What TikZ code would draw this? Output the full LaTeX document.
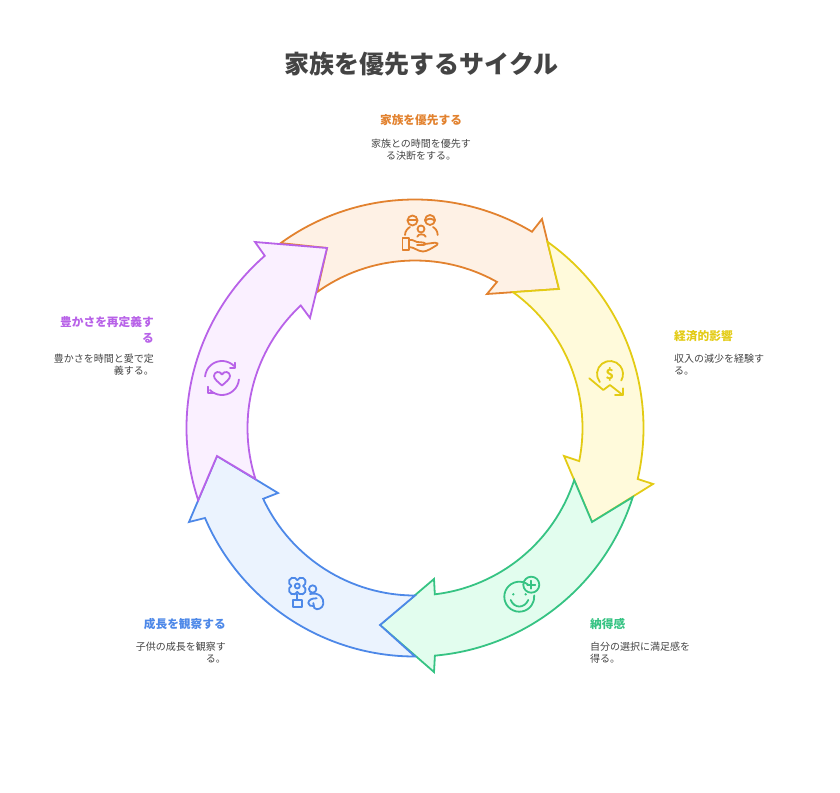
\documentclass[tikz,border=0pt]{standalone}
\usepackage{fontspec}
\setmainfont{Noto Sans CJK JP}
\usetikzlibrary{positioning}
\definecolor{inkgray}{HTML}{444444}
\definecolor{famline}{HTML}{E2822F}
\definecolor{famfill}{HTML}{FEF1E5}
\definecolor{ecoline}{HTML}{E3CB14}
\definecolor{ecofill}{HTML}{FFFADB}
\definecolor{satline}{HTML}{36C383}
\definecolor{satfill}{HTML}{E2FDEE}
\definecolor{groline}{HTML}{4D88E8}
\definecolor{grofill}{HTML}{EBF3FE}
\definecolor{richline}{HTML}{B862E8}
\definecolor{richfill}{HTML}{FAF0FF}
\tikzset{
    ring/.style={line width=1.8pt, line join=miter, miter limit=10},
    icon/.style={line width=1.8pt, line cap=round, line join=round},
    headtext/.style={font=\fontsize{11.7}{15.5}\selectfont\bfseries, inner sep=0pt},
    bodytext/.style={font=\fontsize{10}{12}\selectfont, text=inkgray, inner sep=0pt},
}
\begin{document}
\begin{tikzpicture}[x=1pt, y=1pt]
    \useasboundingbox (-415,-364) rectangle (425,428);
    \node[font=\fontsize{25}{30}\selectfont\bfseries, text=inkgray, inner sep=0pt] (title) at (6.5,364) {家族を優先するサイクル};

    % ring, each arrow laid over the one before it
    \draw[ring, draw=famline, fill=famfill] (126:228.5) arc[start angle=126, end angle=59.2, radius=228.5]
        -- (127,209) -- (144,139) -- (72,134) -- (60.7:167.5) arc[start angle=60.7, end angle=125.8, radius=167.5] -- (-88,180) -- cycle;
    \draw[ring, draw=ecoline, fill=ecofill] (54.6:228.5) arc[start angle=54.6, end angle=-12.9, radius=228.5]
        -- (238,-56) -- (177,-94) -- (149,-28) -- (-11.4:167.5) arc[start angle=-11.4, end angle=54.2, radius=167.5] -- (144,139) -- cycle;
    \draw[ring, draw=satline, fill=satfill] (-17.6:228.5) arc[start angle=-17.6, end angle=-85, radius=228.5]
        -- (19,-244) -- (-35,-197) -- (19,-151) -- (-83.2:167.5) arc[start angle=-83.2, end angle=-18.1, radius=167.5] -- (177,-94) -- cycle;
    \draw[ring, draw=groline, fill=grofill] (-90:228.5) arc[start angle=-90, end angle=-156.8, radius=228.5]
        -- (-226,-94) -- (-198,-28) -- (-137,-65) -- (-155:167.5) arc[start angle=-155, end angle=-90, radius=167.5] -- (-35,-197) -- cycle;
    \draw[ring, draw=richline, fill=richfill] (198.4:228.5) arc[start angle=198.4, end angle=131.1, radius=228.5]
        -- (-160,186) -- (-88,180) -- (-105,110) -- (133:167.5) arc[start angle=133, end angle=197.7, radius=167.5] -- (-198,-28) -- cycle;

    % family icon
    \begin{scope}[shift={(5,194)}, icon, draw=famline]
        \draw (-7.5,13.5) circle[radius=5];
        \draw (-12.5,14) -- (-2.5,14);
        \draw (10,14) circle[radius=5];
        \draw (5.2,13) .. controls (8,16) and (12,16) .. (14.8,13);
        \draw (1,5) circle[radius=3.5];
        \draw (-15,-1) .. controls (-15,3) and (-12,6) .. (-10,7);
        \draw (17.7,-1) .. controls (17.7,3) and (15,6) .. (13,7);
        \draw (-2.7,-2.7) .. controls (-2,0.5) and (4.5,0.5) .. (5.7,-2.7);
        \draw (-17.5,-4) rectangle (-11,-16);
        \draw (-11,-6) .. controls (-7,-5) and (-5,-8) .. (-3,-8) -- (3,-8.5) .. controls (6,-9) and (6,-11) .. (3,-11) -- (-3,-11);
        \draw (5,-10) -- (15,-8.7) .. controls (17.5,-8.5) and (18.5,-10) .. (17,-11) .. controls (12,-14) and (7,-17.5) .. (3,-17.5) .. controls (-2,-17.5) and (-6,-13) .. (-11,-13);
    \end{scope}

    % falling money icon
    \begin{scope}[shift={(195,54)}, icon, draw=ecoline]
        \draw (218:13) arc[start angle=218, end angle=-30, radius=13];
        \node[font=\fontsize{14}{14}\selectfont\bfseries, text=ecoline, inner sep=0pt] (dollar) at (0,0) {\$};
        \draw (-20.7,-4.3) -- (-6.7,-16) -- (0,-11) -- (12.7,-21);
        \draw (12.7,-14.3) -- (12.7,-21) -- (5,-21);
    \end{scope}

    % smile icon
    \begin{scope}[shift={(104.3,-168.7)}, icon, draw=satline, fill=satline]
        \draw[fill=none] (55:15) arc[start angle=55, end angle=365, radius=15];
        \draw[fill=none] (12,12) circle[radius=8];
        \draw (12,8) -- (12,16);
        \draw (8,12) -- (16,12);
        \fill (-6,2.4) circle[radius=1.3];
        \fill (6.4,2.4) circle[radius=1.3];
        \draw[fill=none] (-8.6,-3.3) .. controls (-5,-12) and (5,-12) .. (9,-3.3);
    \end{scope}

    % plant and child icon
    \begin{scope}[shift={(-117.7,-158)}, icon, draw=groline]
        \draw (0,5.83) arc[start angle=155.4, end angle=-65.4, radius=4.4]
            arc[start angle=65.4, end angle=-155.4, radius=4.4]
            arc[start angle=-24.6, end angle=-245.4, radius=4.4]
            arc[start angle=-114.6, end angle=-335.4, radius=4.4] -- cycle;
        \draw (0,0) circle[radius=2.5];
        \draw (0,-8) -- (0,-14);
        \draw (-4.6,-14) rectangle (5,-21.3);
        \draw (15.4,-3) circle[radius=3.7];
        \draw (12.7,-8) .. controls (22,-6) and (27,-12) .. (26,-18) .. controls (25.5,-22) and (20,-25) .. (17,-22) -- (16,-17);
        \draw (19.4,-12.3) .. controls (15,-12) and (11,-14) .. (11,-17) .. controls (11,-20) and (14,-20) .. (16,-20);
    \end{scope}

    % heart icon
    \begin{scope}[shift={(-193,50)}, icon, draw=richline]
        \draw (175:17) arc[start angle=175, end angle=45, radius=17];
        \draw (13,15.3) -- (13,10.3) -- (8,10.3);
        \draw (-5:17) arc[start angle=-5, end angle=-135, radius=17];
        \draw (-13.7,-8.7) -- (-13.7,-15.3) -- (-7.7,-15.3);
        \draw (0,-7.5) .. controls (-4,-4) and (-8,-1) .. (-8,2) .. controls (-8,6.5) and (-2,7.5) .. (0,3.5)
            .. controls (2,7.5) and (8,6.5) .. (8,2) .. controls (8,-1) and (4,-4) .. (0,-7.5) -- cycle;
    \end{scope}

    % labels
    \node[headtext, text=famline] (famhead) at (6,308) {家族を優先する};
    \node[bodytext, align=center] (fambody) at (6,278.5) {家族との時間を優先す\\る決断をする。};
    \node[headtext, text=ecoline, anchor=west] (ecohead) at (259,92) {経済的影響};
    \node[bodytext, align=left, anchor=west] (ecobody) at (259,63) {収入の減少を経験す\\る。};
    \node[headtext, text=satline, anchor=west] (sathead) at (175,-196) {納得感};
    \node[bodytext, align=left, anchor=west] (satbody) at (175,-225) {自分の選択に満足感を\\得る。};
    \node[headtext, text=groline, anchor=east] (grohead) at (-189,-196) {成長を観察する};
    \node[bodytext, align=right, anchor=east] (grobody) at (-189,-225) {子供の成長を観察す\\る。};
    \node[headtext, text=richline, align=right, anchor=east] (richhead) at (-261,98) {豊かさを再定義す\\る};
    \node[bodytext, align=right, anchor=east] (richbody) at (-261,63) {豊かさを時間と愛で定\\義する。};
\end{tikzpicture}
\end{document}
